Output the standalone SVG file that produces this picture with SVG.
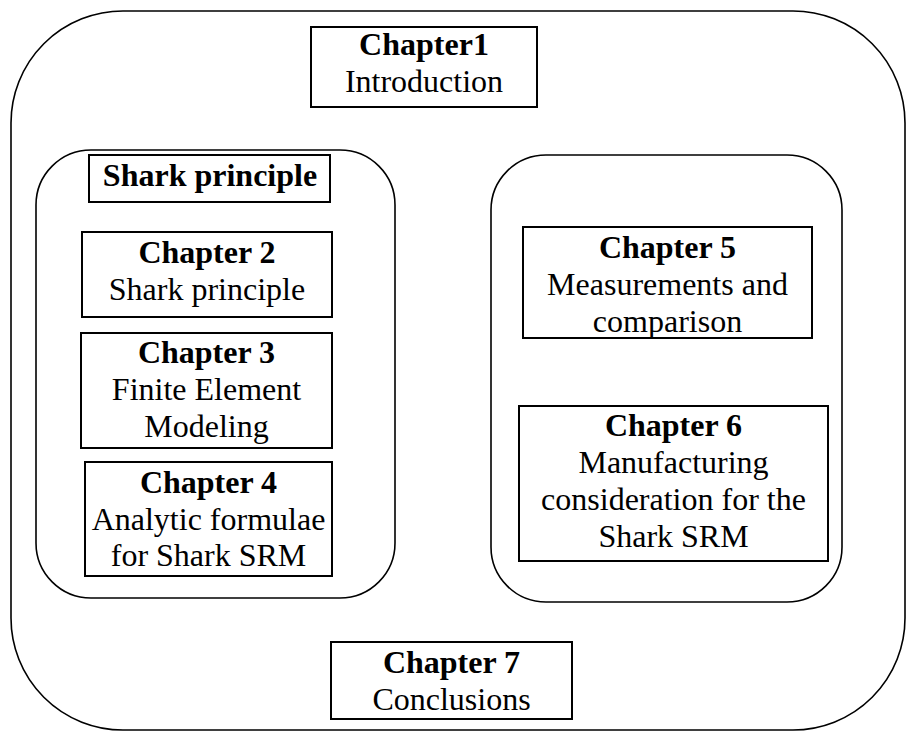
<svg xmlns="http://www.w3.org/2000/svg" width="911" height="733" viewBox="0 0 911 733">
<style>
.frame{fill:none;stroke:#000;stroke-width:1.6}
.box{fill:#fff;stroke:#000;stroke-width:2}
text{font-family:"Liberation Serif","Times New Roman",serif;font-size:32px;fill:#000;text-anchor:middle}
.b{font-weight:bold}
</style>
<rect width="911" height="733" fill="#fff"/>
<g id="outer"><rect class="frame" x="11" y="11" width="894" height="719" rx="112" ry="112"/></g>
<g id="group-left"><rect class="frame" x="36" y="150" width="359" height="448" rx="55" ry="55"/></g>
<g id="group-right"><rect class="frame" x="491" y="155" width="351" height="447" rx="55" ry="55"/></g>
<g id="ch1"><rect class="box" x="311" y="27" width="226" height="80"/>
<text class="b" x="424" y="55">Chapter1</text><text x="424" y="92">Introduction</text></g>
<g id="shark-title"><rect class="box" x="89" y="155" width="241" height="47"/>
<text class="b" x="210" y="186">Shark principle</text></g>
<g id="ch2"><rect class="box" x="82" y="232" width="250" height="85"/>
<text class="b" x="207" y="263">Chapter 2</text><text x="207" y="300">Shark principle</text></g>
<g id="ch3"><rect class="box" x="81" y="333" width="251" height="115"/>
<text class="b" x="206.5" y="363">Chapter 3</text><text x="206.5" y="400">Finite Element</text><text x="206.5" y="437">Modeling</text></g>
<g id="ch4"><rect class="box" x="85" y="462" width="247" height="114"/>
<text class="b" x="208.5" y="493">Chapter 4</text><text x="208.5" y="530">Analytic formulae</text><text x="208.5" y="566">for Shark SRM</text></g>
<g id="ch5"><rect class="box" x="523" y="227" width="289" height="111"/>
<text class="b" x="667.5" y="258">Chapter 5</text><text x="667.5" y="295">Measurements and</text><text x="667.5" y="332">comparison</text></g>
<g id="ch6"><rect class="box" x="519" y="406" width="309" height="155"/>
<text class="b" x="673.5" y="436">Chapter 6</text><text x="673.5" y="473">Manufacturing</text><text x="673.5" y="510">consideration for the</text><text x="673.5" y="547">Shark SRM</text></g>
<g id="ch7"><rect class="box" x="331" y="642" width="241" height="77"/>
<text class="b" x="451.5" y="673">Chapter 7</text><text x="451.5" y="710">Conclusions</text></g>
<g id="connectors"></g>
</svg>
